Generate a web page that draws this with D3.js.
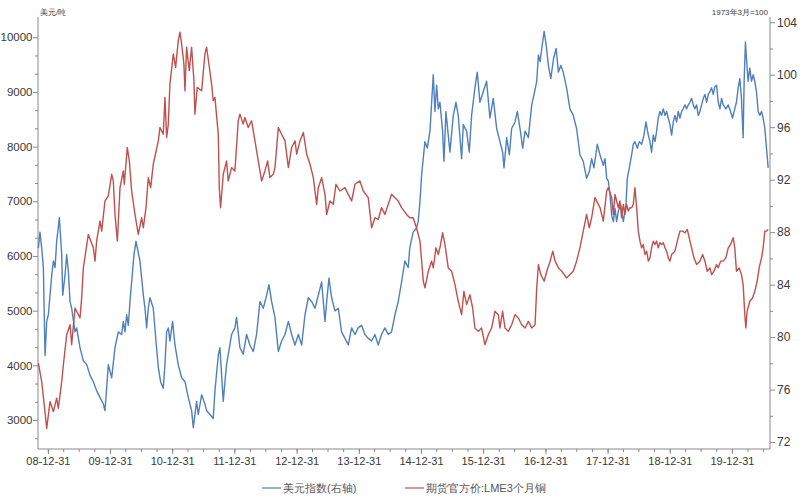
<!DOCTYPE html>
<html><head><meta charset="utf-8">
<script src="https://cdn.jsdelivr.net/npm/d3@7"></script>
<style>
body{margin:0;background:#fff;}
svg{display:block;font-family:"Liberation Sans",Arial,sans-serif;}
</style>
</head><body>
<svg id="chart" width="800" height="500"></svg>
<script>
// ---------------- DATA ----------------
// LME 3-month copper (USD/t), dates as decimal years
const copperT = [2008.845,2008.898,2008.979,2009.032,2009.086,2009.139,2009.166,2009.220,2009.247,2009.300,2009.354,2009.380,2009.434,2009.514,2009.541,2009.568,2009.648,2009.729,2009.756,2009.782,2009.836,2009.863,2009.916,2009.970,2010.024,2010.050,2010.077,2010.115,2010.158,2010.211,2010.227,2010.275,2010.308,2010.345,2010.399,2010.452,2010.506,2010.533,2010.576,2010.613,2010.651,2010.693,2010.774,2010.801,2010.854,2010.881,2010.908,2010.935,2010.961,2011.015,2011.053,2011.095,2011.122,2011.149,2011.186,2011.203,2011.229,2011.272,2011.310,2011.347,2011.363,2011.401,2011.471,2011.524,2011.551,2011.588,2011.631,2011.658,2011.685,2011.739,2011.755,2011.776,2011.819,
2011.872,2011.899,2011.953,2012.006,2012.060,2012.087,2012.140,2012.167,2012.220,2012.274,2012.328,2012.381,2012.435,2012.488,2012.531,2012.569,2012.622,2012.649,2012.703,2012.756,2012.810,2012.864,2012.917,2012.971,2012.998,2013.051,2013.105,2013.158,2013.212,2013.265,2013.319,2013.346,2013.399,2013.453,2013.480,2013.533,2013.587,2013.629,2013.694,2013.774,2013.828,2013.881,2013.935,2014.015,2014.069,2014.149,2014.203,2014.256,2014.310,2014.363,2014.417,2014.470,2014.524,2014.578,2014.631,2014.685,2014.765,2014.817,2014.871,2014.925,
2014.981,2015.035,2015.061,2015.115,2015.168,2015.195,2015.238,2015.276,2015.313,2015.345,2015.383,2015.436,2015.490,2015.544,2015.597,2015.651,2015.688,2015.731,2015.785,2015.828,2015.865,2015.919,2015.972,2016.026,2016.080,2016.133,2016.187,2016.241,2016.267,2016.310,2016.348,2016.402,2016.455,2016.509,2016.562,2016.616,2016.670,2016.723,2016.777,2016.830,2016.857,2016.884,2016.922,2016.976,2017.019,2017.072,2017.115,2017.153,2017.206,2017.260,2017.337,2017.391,2017.444,2017.498,2017.552,2017.605,2017.659,2017.702,2017.740,2017.793,2017.847,
2017.875,2017.901,2017.928,2017.982,2018.008,2018.062,2018.089,2018.116,2018.142,2018.169,2018.196,2018.223,2018.250,2018.276,2018.303,2018.330,2018.357,2018.384,2018.410,2018.437,2018.464,2018.491,2018.518,2018.544,2018.571,2018.598,2018.625,2018.652,2018.678,2018.705,2018.732,2018.759,2018.786,2018.812,2018.839,2018.866,2018.893,2018.920,2018.946,2018.973,2019.000,2019.027,2019.080,2019.118,2019.161,2019.204,2019.241,2019.279,2019.322,2019.348,2019.386,2019.429,2019.482,2019.525,2019.563,2019.600,2019.643,2019.670,2019.707,2019.750,2019.777,2019.815,2019.857,2019.900,2019.938,2019.975,2020.018,2020.043,2020.070,2020.113,2020.150,2020.177,2020.204,2020.220,2020.241,2020.284,2020.327,2020.364,2020.402,2020.434,2020.472,2020.498,2020.525,2020.552,2020.579];
const copperV = [4040,3704,2848,3337,3154,3399,3215,3704,4010,4560,4743,4377,5049,4866,5232,5782,6394,6149,5905,6271,6638,6455,7005,7097,7494,7372,6760,6271,7249,7555,7311,7983,7738,7188,6760,6394,6699,6516,6883,7433,7249,7677,8105,8350,8227,8900,8166,8411,9144,9694,9450,9939,10092,9878,9511,9022,9817,9389,9817,9205,8594,9083,9022,9694,9817,9511,9144,8839,8900,8227,7249,6883,7494,
7738,7372,7616,7555,8472,8594,8411,8533,8350,8472,8105,7738,7372,7555,7738,7433,7494,7616,8350,8227,8105,7616,7983,8105,7861,8105,8258,7861,7677,7433,6944,7249,7433,7127,6760,7005,6944,7311,7188,7249,7127,7005,7311,7372,7188,7066,6516,6699,6668,6883,6760,6944,7127,7066,7005,6883,6760,6699,6699,6516,
6271,5538,5416,5721,5905,5782,6149,6027,6210,6424,6210,5782,5721,5477,5171,4927,5354,5110,5293,5049,4682,4621,4682,4377,4560,4682,4988,4927,4682,4988,4682,4621,4743,4927,4866,4743,4682,4804,4682,4743,5416,5843,5660,5538,5721,5905,6088,5905,5782,5721,5599,5660,5721,5905,6149,6455,6760,6516,6699,7066,6944,
6883,6760,6638,7188,7249,7066,6760,7127,7005,6883,7005,6699,6944,6760,6944,6822,6883,6883,6944,7249,6883,6455,6271,6149,6210,6027,6088,5905,5966,6149,6271,6210,6271,6149,6241,6210,6241,6149,6088,5966,5905,6027,6088,6271,6455,6455,6424,6485,6271,6149,5966,5843,5905,6027,5905,5721,5782,5660,5721,5843,5782,5905,5905,5966,6149,6210,6332,6149,5721,5782,5660,5477,4927,4682,4988,5171,5232,5354,5538,5782,5966,6149,6455,6455,6485];

// US Dollar Index (right axis, 1973-03 = 100)
const dxyT = [2008.845,2008.871,2008.898,2008.925,2008.952,2008.979,2009.005,2009.059,2009.086,2009.113,2009.139,2009.182,2009.220,2009.236,2009.273,2009.300,2009.327,2009.354,2009.380,2009.434,2009.461,2009.514,2009.568,2009.622,2009.675,2009.729,2009.782,2009.836,2009.890,2009.916,2009.943,2009.970,2009.997,2010.024,2010.077,2010.131,2010.184,2010.211,2010.238,2010.265,2010.292,2010.318,2010.345,2010.383,2010.415,2010.436,2010.479,2010.506,2010.533,2010.560,2010.586,2010.613,2010.640,2010.693,2010.736,2010.774,2010.811,2010.854,2010.881,2010.908,2010.935,2010.961,2011.004,2011.042,2011.095,2011.149,2011.203,2011.256,2011.310,2011.337,2011.390,2011.417,2011.471,2011.524,2011.551,2011.605,2011.658,2011.685,2011.739,2011.765,2011.819,
2011.846,2011.872,2011.926,2011.953,2012.006,2012.033,2012.087,2012.140,2012.194,2012.247,2012.301,2012.354,2012.408,2012.462,2012.515,2012.553,2012.596,2012.649,2012.703,2012.756,2012.810,2012.864,2012.917,2012.971,2013.024,2013.078,2013.131,2013.185,2013.239,2013.292,2013.346,2013.399,2013.453,2013.480,2013.517,2013.560,2013.613,2013.667,2013.720,2013.774,2013.828,2013.881,2013.935,2013.988,2014.042,2014.095,2014.149,2014.203,2014.256,2014.310,2014.363,2014.417,2014.470,2014.524,2014.578,2014.631,2014.685,2014.738,2014.792,2014.817,2014.871,2014.925,2014.952,
2014.981,2015.008,2015.061,2015.099,2015.142,2015.195,2015.222,2015.249,2015.276,2015.302,2015.345,2015.367,2015.399,2015.436,2015.463,2015.517,2015.560,2015.597,2015.651,2015.678,2015.731,2015.774,2015.812,2015.865,2015.903,2015.945,2015.999,2016.053,2016.106,2016.160,2016.214,2016.267,2016.310,2016.332,2016.375,2016.418,2016.455,2016.509,2016.546,2016.589,2016.632,2016.670,2016.723,2016.777,2016.814,2016.857,2016.884,2016.911,2016.938,2016.976,2017.008,2017.045,2017.083,2017.126,2017.169,2017.206,2017.244,2017.283,2017.337,2017.391,2017.444,2017.498,2017.552,2017.605,2017.659,2017.702,2017.740,2017.777,2017.831,2017.874,
2017.928,2017.955,2017.982,2018.008,2018.035,2018.062,2018.089,2018.116,2018.142,2018.169,2018.207,2018.250,2018.292,2018.314,2018.346,2018.384,2018.410,2018.437,2018.475,2018.507,2018.544,2018.582,2018.614,2018.652,2018.678,2018.705,2018.732,2018.759,2018.786,2018.812,2018.839,2018.866,2018.893,2018.920,2018.946,2018.973,2019.000,2019.027,2019.054,2019.080,2019.107,2019.134,2019.161,2019.188,2019.214,2019.241,2019.268,2019.295,2019.322,2019.348,2019.375,2019.402,2019.429,2019.456,2019.482,2019.509,2019.536,2019.563,2019.590,2019.616,2019.643,2019.670,2019.697,2019.723,2019.750,2019.777,2019.804,2019.831,2019.857,2019.900,2019.938,2019.975,2020.007,2020.043,2020.070,2020.097,2020.124,2020.150,2020.177,2020.193,2020.214,2020.231,2020.257,2020.284,2020.311,2020.338,2020.364,2020.391,2020.418,2020.445,2020.472,2020.498,2020.525,2020.552,2020.579];
const dxyV = [86.8,88.0,86.8,85.3,78.6,81.2,81.7,84.7,85.8,85.3,87.3,89.1,86.3,83.2,84.7,86.3,85.0,82.7,82.2,80.4,80.7,79.2,78.2,77.9,77.1,76.6,75.9,75.4,74.9,74.4,76.1,77.9,77.4,76.9,79.2,80.4,80.2,81.2,80.4,81.7,80.9,82.7,84.2,86.3,87.3,86.8,85.8,84.5,83.2,82.2,80.7,82.2,83.0,82.2,79.7,77.7,76.6,76.1,77.9,80.4,80.7,79.7,81.2,79.4,77.9,76.9,76.6,75.4,74.4,73.1,75.1,74.1,75.6,74.9,74.4,74.1,73.8,75.9,78.6,79.2,75.1,
76.6,77.9,79.4,80.2,80.7,81.5,79.2,78.7,80.2,79.4,78.9,80.2,82.7,82.2,83.2,84.0,82.7,81.5,78.9,79.7,80.2,81.2,80.2,79.4,80.2,79.4,81.7,83.0,82.7,82.2,83.2,84.2,81.2,82.7,84.5,83.0,82.0,82.2,80.4,79.9,79.4,80.7,80.2,80.7,80.9,80.2,79.9,79.7,80.2,79.4,80.2,80.7,80.2,80.4,81.7,82.7,84.2,85.8,85.3,86.8,88.0,88.3,88.8,
90.3,92.4,94.9,94.4,95.7,100.0,97.2,99.2,97.4,97.9,95.7,93.4,97.2,95.4,94.1,96.9,97.9,96.9,93.6,96.2,95.7,94.1,96.9,99.0,100.2,97.9,98.7,99.5,96.7,98.2,95.9,94.9,94.1,92.9,95.2,93.9,95.9,96.4,97.2,95.9,94.4,95.7,95.2,97.7,98.5,99.5,101.5,101.0,102.0,103.3,102.3,100.7,99.7,101.2,102.0,100.2,100.7,100.2,99.0,97.4,96.9,95.9,93.9,93.4,92.1,92.6,93.6,92.9,94.7,93.9,
93.1,93.6,92.1,91.9,90.9,89.3,88.8,89.8,88.8,89.6,90.1,88.8,90.1,92.1,92.9,93.9,94.7,94.9,94.4,94.9,94.7,95.4,96.4,95.4,94.9,94.1,95.4,94.9,95.7,96.7,97.2,96.9,97.4,96.9,97.2,96.7,96.2,95.4,96.4,96.9,96.4,97.2,96.7,97.2,97.4,97.7,97.4,97.7,97.9,98.2,97.7,97.4,97.7,96.9,97.2,97.7,98.2,98.5,97.9,98.5,98.7,99.0,98.5,99.1,99.2,97.9,97.4,98.2,97.7,97.4,97.7,97.2,96.7,97.4,97.9,99.0,99.7,98.2,95.2,99.5,102.5,101.2,99.5,100.5,99.5,100.0,99.5,98.7,97.2,96.9,97.2,96.7,95.9,94.4,92.9];

const leftTicks  = [3000,4000,5000,6000,7000,8000,9000,10000];
const rightTicks = [72,76,80,84,88,92,96,100,104];
const xTickDates = ["2008-12-31","2009-12-31","2010-12-31","2011-12-31","2012-12-31","2013-12-31","2014-12-31","2015-12-31","2016-12-31","2017-12-31","2018-12-31","2019-12-31"];
const seriesNames = ["美元指数(右轴)","期货官方价:LME3个月铜"];
const seriesColors = ["#4f7fbe","#c0504d"];
const leftUnit = "美元/吨";
const rightUnit = "1973年3月=100";

// ---------------- LAYOUT ----------------
const L = 38, R = 770, T = 17, B = 449;
const decToDate = t => { const y = Math.floor(t); const a = new Date(y,0,1), b = new Date(y+1,0,1); return new Date(+a + (t - y) * (b - a)); };
const parse = d3.timeParse("%Y-%m-%d");

const x = d3.scaleTime().domain([decToDate(2008.839), decToDate(2020.608)]).range([L, R]);
const yL = d3.scaleLinear().domain([2470, 10370]).range([B, T]);
const yR = d3.scaleLinear().domain([71.47, 104.4]).range([B, T]);

const svg = d3.select("#chart");
const axisColor = "#8a8a8a", textColor = "#3a3a3a";

function styleAxis(g, fs) {
  g.select(".domain").remove();
  g.selectAll(".tick line").attr("stroke", axisColor);
  g.selectAll(".tick text").attr("fill", textColor).style("font-size", fs + "px");
}

// minor ticks
const leftMinor = d3.range(1, 24).map(k => 2000 + k * 1000 / 3).filter(v => v > 2470 && v < 10370 && Math.abs(v / 1000 - Math.round(v / 1000)) > 0.01);
const rightMinor = d3.range(74, 104, 4);
const xMinor = d3.timeMonth.every(3).range(x.domain()[0], x.domain()[1]).map(d => d3.timeDay.offset(d, -1));

svg.append("g").attr("transform", `translate(${L},0)`)
  .call(d3.axisLeft(yL).tickValues(leftMinor).tickSize(3).tickFormat(""))
  .call(g => styleAxis(g, 12));
svg.append("g").attr("transform", `translate(${R},0)`)
  .call(d3.axisRight(yR).tickValues(rightMinor).tickSize(3).tickFormat(""))
  .call(g => styleAxis(g, 12));
svg.append("g").attr("transform", `translate(0,${B})`)
  .call(d3.axisBottom(x).tickValues(xMinor).tickSize(3).tickFormat(""))
  .call(g => styleAxis(g, 11));

// major axes
svg.append("g").attr("transform", `translate(${L},0)`)
  .call(d3.axisLeft(yL).tickValues(leftTicks).tickSize(5).tickPadding(0.5).tickFormat(d3.format("d")))
  .call(g => styleAxis(g, 11.5));
svg.append("g").attr("transform", `translate(${R},0)`)
  .call(d3.axisRight(yR).tickValues(rightTicks).tickSize(5).tickPadding(2))
  .call(g => styleAxis(g, 12));
svg.append("g").attr("transform", `translate(0,${B})`)
  .call(d3.axisBottom(x).tickValues(xTickDates.map(parse)).tickSize(5).tickPadding(3).tickFormat(d3.timeFormat("%y-%m-%d")))
  .call(g => styleAxis(g, 11));

// axis lines
svg.append("line").attr("x1", L).attr("x2", L).attr("y1", T).attr("y2", B).attr("stroke", axisColor);
svg.append("line").attr("x1", R).attr("x2", R).attr("y1", T).attr("y2", B).attr("stroke", axisColor);
svg.append("line").attr("x1", L).attr("x2", R).attr("y1", B).attr("y2", B).attr("stroke", axisColor);

// units
svg.append("text").attr("x", L + 2).attr("y", 15).attr("fill", textColor).style("font-size", "8px").text(leftUnit);
svg.append("text").attr("x", R - 2).attr("y", 15).attr("text-anchor", "end").attr("fill", textColor).style("font-size", "8px").text(rightUnit);

// lines
const dxyData = dxyT.map((t, i) => [decToDate(t), dxyV[i]]);
const cuData = copperT.map((t, i) => [decToDate(t), copperV[i]]);

svg.append("path").datum(dxyData)
  .attr("fill", "none").attr("stroke", seriesColors[0]).attr("stroke-width", 1.4).attr("stroke-linejoin", "round")
  .attr("d", d3.line().x(d => x(d[0])).y(d => yR(d[1])));
svg.append("path").datum(cuData)
  .attr("fill", "none").attr("stroke", seriesColors[1]).attr("stroke-width", 1.4).attr("stroke-linejoin", "round")
  .attr("d", d3.line().x(d => x(d[0])).y(d => yL(d[1])));

// legend
const legendX = [262, 405];
const lg = svg.append("g");
seriesNames.forEach((name, i) => {
  lg.append("line").attr("x1", legendX[i]).attr("x2", legendX[i] + 19).attr("y1", 488).attr("y2", 488)
    .attr("stroke", seriesColors[i]).attr("stroke-width", 1.2);
  lg.append("text").attr("x", legendX[i] + 21).attr("y", 492).attr("fill", "#555")
    .style("font-size", "11px").text(name);
});
</script>
</body></html>
